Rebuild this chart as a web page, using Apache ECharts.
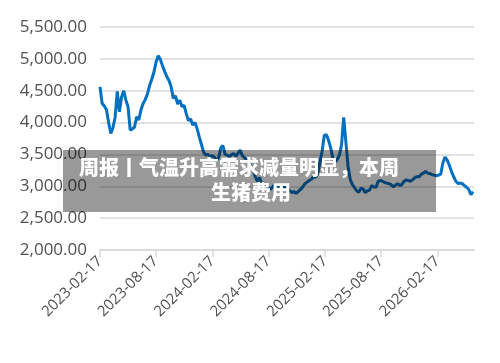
<!DOCTYPE html>
<html>
<head>
<meta charset="utf-8">
<script src="https://cdn.jsdelivr.net/npm/echarts@6/dist/echarts.min.js"></script>
<style>
html,body{margin:0;padding:0;background:#fff;}
#chart{width:500px;height:363px;}
</style>
</head>
<body>
<div id="chart"></div>
<script>
// ---- data ----
const startDate = '2023-02-17';
const stepDays = 7;
const values = [
4560,4300,4260,4200,4000,3830,3920,4080,4490,4170,
4400,4500,4350,4250,3880,3900,3930,4090,4040,4200,
4300,4360,4450,4580,4680,4790,4950,5050,4990,4890,
4800,4720,4660,4560,4380,4420,4290,4350,4250,4270,
4140,4030,4060,3960,4000,3910,3780,3660,3540,3490,
3500,3470,3480,3460,3400,3450,3600,3640,3500,3490,
3460,3500,3510,3470,3520,3570,3480,3450,3410,3375,
3320,3260,3150,3080,3140,3040,3050,3020,2980,2950,
2990,3030,3010,3005,3000,2985,2990,2965,2930,2900,
2915,2890,2920,2950,2990,3040,3065,3090,3110,3150,
3140,3200,3380,3550,3800,3810,3720,3600,3430,3380,
3420,3490,3650,4080,3700,3320,3110,3030,2980,2930,
2905,2970,2960,2900,2930,2940,3010,2990,2985,3080,
3090,3080,3060,3050,3040,3025,2990,3020,3040,3010,
3030,3080,3100,3090,3080,3105,3135,3150,3150,3190,
3205,3235,3205,3200,3180,3175,3165,3175,3190,3370,
3460,3410,3330,3230,3150,3080,3045,3050,3040,3010,
2985,2950,2870,2915
];
const tickDates = ['2023-02-17','2023-08-17','2024-02-17','2024-08-17','2025-02-17','2025-08-17','2026-02-17'];
const axisMinDate = '2023-02-17';
const axisMaxDate = '2026-06-15';
const yMin = 2000, yMax = 5500, yStep = 500;
const titleLine1 = '周报丨气温升高需求减量明显，本周';
const titleLine2 = '生猪费用';

// build series pairs
function addDays(s, n){
  const p = s.split('-').map(Number);
  const d = new Date(p[0], p[1]-1, p[2] + n);
  const mm = String(d.getMonth()+1).padStart(2,'0');
  const dd = String(d.getDate()).padStart(2,'0');
  return d.getFullYear() + '-' + mm + '-' + dd;
}
const seriesData = values.map((v, i) => [addDays(startDate, i*stepDays), v]);
const toTs = s => { const p = s.split('-').map(Number); return new Date(p[0], p[1]-1, p[2]).getTime(); };

const chart = echarts.init(document.getElementById('chart'));
const labelColor = '#505050';
chart.setOption({
  animation: false,
  backgroundColor: '#ffffff',
  grid: { left: 100, right: 26, top: 27, bottom: 113, containLabel: false, outerBoundsMode: 'none' },
  xAxis: {
    type: 'time',
    min: toTs(axisMinDate),
    max: toTs(axisMaxDate),
    axisLine: { show: true, lineStyle: { color: '#d9d9d9', width: 1.5 } },
    axisTick: { show: true, customValues: tickDates.map(toTs), length: 7, inside: false, lineStyle: { color: '#d9d9d9', width: 1.5 } },
    axisLabel: {
      customValues: tickDates.map(toTs),
      rotate: 45,
      margin: 9,
      color: labelColor,
      fontFamily: 'Open Sans',
      fontSize: 15,
      formatter: '{yyyy}-{MM}-{dd}',
      hideOverlap: false
    },
    splitLine: { show: false }
  },
  yAxis: {
    type: 'value',
    min: yMin, max: yMax, interval: yStep,
    axisLine: { show: false },
    axisTick: { show: false },
    axisLabel: {
      color: labelColor,
      fontFamily: 'Open Sans',
      fontSize: 17,
      margin: 13,
      formatter: v => v.toLocaleString('en-US', { minimumFractionDigits: 2, maximumFractionDigits: 2 })
    },
    splitLine: { show: true, lineStyle: { color: '#d9d9d9', width: 1.5 } }
  },
  series: [{
    type: 'line',
    data: seriesData,
    showSymbol: false,
    symbol: 'none',
    lineStyle: { color: '#0070C0', width: 3 },
    z: 2
  }],
  graphic: [
    { type: 'rect', z: 100, shape: { x: 63, y: 150, width: 373, height: 62 }, style: { fill: 'rgba(0,0,0,0.4)' } },
    { type: 'text', z: 101, x: 239, y: 167, style: { text: titleLine1, fill: '#ffffff', font: '900 20px "Noto Sans CJK SC"', textAlign: 'center', textVerticalAlign: 'middle' } },
    { type: 'text', z: 101, x: 251, y: 192, style: { text: titleLine2, fill: '#ffffff', font: '900 20px "Noto Sans CJK SC"', textAlign: 'center', textVerticalAlign: 'middle' } }
  ]
});
</script>
</body>
</html>
